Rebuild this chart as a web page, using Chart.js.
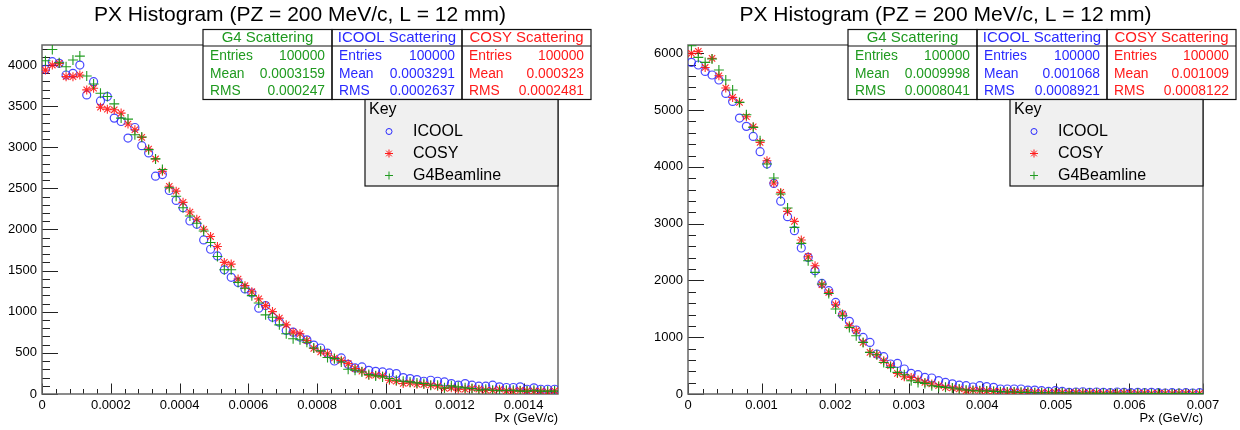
<!DOCTYPE html>
<html lang="en">
<head>
<meta charset="UTF-8">
<title>PX Histogram</title>
<script src="https://cdn.jsdelivr.net/npm/chart.js@4.4.1/dist/chart.umd.min.js"></script>
<style>
  body { margin: 0; background: #fff; }
  #wrap { display: flex; width: 1240px; height: 430px; }
  canvas { display: block; }
</style>
</head>
<body>
<div id="wrap">
  <canvas id="left" width="620" height="430"></canvas>
  <canvas id="right" width="620" height="430"></canvas>
</div>
<script>
// histogram binning (75 bins each)
const binsLeft = 75, xMaxLeft = 0.0015;
const binsRight = 75, xMaxRight = 0.007;

// tick labels
const xTicksLeft = [0, 0.0002, 0.0004, 0.0006, 0.0008, 0.001, 0.0012, 0.0014];
const yTicksLeft = [0, 500, 1000, 1500, 2000, 2500, 3000, 3500, 4000];
const xTicksRight = [0, 0.001, 0.002, 0.003, 0.004, 0.005, 0.006, 0.007];
const yTicksRight = [0, 1000, 2000, 3000, 4000, 5000, 6000];

// left panel counts
const icoolLeft = [3947, 4040, 4020, 3878, 3898, 3999, 3636, 3797, 3563, 3616, 3354, 3313, 3112, 3240, 3019, 2931, 2648, 2668, 2474, 2353, 2265,
  2103, 2063, 1873, 1760, 1679, 1510, 1418, 1357, 1277, 1228, 1043, 1075, 934, 873, 772, 752, 692, 659, 595, 559, 496,
  401, 438, 361, 317, 329, 288, 276, 268, 256, 248, 200, 188, 175, 155, 167, 155, 147, 127, 107, 127, 107, 95, 95, 107, 87, 79, 79, 87, 58, 75, 58, 58, 58];
const cosyLeft = [3938, 3999, 4020, 3858, 3858, 3878, 3697, 3717, 3487, 3463, 3455, 3415, 3282, 3213, 3120, 2979, 2858, 2708, 2526, 2466, 2330,
  2212, 2124, 2003, 1914, 1793, 1600, 1579, 1398, 1317, 1244, 1156, 1075, 1002, 922, 841, 752, 732, 651, 555, 510, 490,
  438, 409, 369, 309, 276, 228, 228, 220, 167, 155, 127, 135, 119, 115, 107, 95, 67, 75, 58, 58, 67, 58, 46, 46, 58, 39, 35, 46, 39, 35, 35, 27, 39];
const g4Left = [4051, 4189, 4027, 3979, 4060, 4108, 3866, 3769, 3657, 3616, 3527, 3354, 3342, 3152, 3124, 2971, 2858, 2729, 2507, 2405, 2265,
  2164, 2075, 1982, 1841, 1672, 1510, 1510, 1357, 1285, 1196, 1107, 962, 934, 841, 732, 672, 660, 630, 560, 524, 444,
  430, 389, 300, 288, 268, 236, 220, 208, 188, 167, 155, 147, 135, 127, 107, 107, 75, 99, 87, 75, 67, 46, 58, 46, 39, 46, 46, 35, 35, 46, 35, 35, 35];

// right panel counts
const icoolRight = [5840, 5794, 5681, 5618, 5530, 5294, 5153, 4860, 4713, 4536, 4267, 4050, 3709, 3395,
  3122, 2876, 2571, 2406, 2171, 1948, 1819, 1613, 1396, 1279, 1127, 997, 909, 704, 657, 528, 539, 440, 363, 340, 292, 282, 234, 204, 180, 155, 146, 123,
  146, 129, 117, 88, 88, 88, 88, 70, 70, 58, 46, 58, 46, 29, 35, 40, 29, 35, 29, 23, 35, 29, 23, 29, 23, 29, 23, 18, 23, 18, 23, 18, 23];
const cosyRight = [5998, 6033, 5751, 5910, 5605, 5389, 5223, 5135, 4883, 4707, 4431, 4108, 3716, 3550,
  3216, 3040, 2712, 2418, 2259, 1925, 1789, 1573, 1409, 1203, 1115, 909, 733, 692, 586, 498, 363, 305, 292, 247, 204, 176, 146, 117, 106, 88, 58, 70,
  64, 58, 52, 46, 41, 41, 35, 35, 29, 29, 23, 29, 23, 18, 23, 18, 18, 23, 12, 18, 12, 18, 12, 12, 18, 12, 12, 12, 6, 12, 12, 6, 12];
const g4Right = [6133, 5928, 5840, 5899, 5706, 5530, 5353, 5135, 4918, 4695, 4461, 4050, 3804, 3522,
  3275, 2934, 2652, 2347, 2141, 1937, 1771, 1497, 1379, 1173, 1027, 909, 733, 692, 556, 469, 381, 340, 234, 204, 187, 146, 129, 117, 106, 88, 70, 58,
  52, 52, 46, 41, 35, 35, 29, 29, 23, 23, 23, 18, 23, 18, 18, 12, 18, 12, 12, 12, 12, 12, 6, 12, 12, 6, 12, 6, 6, 12, 6, 6, 6];

// stats box contents
const statsLeft = {
  g4: ['100000', '0.0003159', '0.000247'],
  icool: ['100000', '0.0003291', '0.0002637'],
  cosy: ['100000', '0.000323', '0.0002481']
};
const statsRight = {
  g4: ['100000', '0.0009998', '0.0008041'],
  icool: ['100000', '0.001068', '0.0008921'],
  cosy: ['100000', '0.001009', '0.0008122']
};

const GREEN = '#1f9a1f', BLUE = '#2a2aff', RED = '#ff1a1a';
const FONT = '"Liberation Sans", Arial, Helvetica, sans-serif';

function centers(n, max) {
  const out = [];
  for (let i = 0; i < n; i++) out.push((i + 0.5) * max / n);
  return out;
}
function pts(xs, ys) {
  return ys.map((y, i) => ({ x: xs[i], y: y }));
}

// ROOT-like frame, ticks, title, stats boxes and key
const rootDecor = {
  id: 'rootDecor',
  beforeDatasetsDraw(chart) {
    const o = chart.options.plugins.rootDecor;
    const { ctx, chartArea: a } = chart;
    const xs = chart.scales.x, ys = chart.scales.y;
    ctx.save();
    ctx.strokeStyle = '#222';
    ctx.lineWidth = 1;
    ctx.beginPath();
    // x ticks, pointing up into the frame
    for (let v = 0; v <= xs.max + 1e-12; v += o.xMinor) {
      const px = Math.round(xs.getPixelForValue(v)) + 0.5;
      const major = Math.abs(v / o.xMajor - Math.round(v / o.xMajor)) < 1e-6;
      ctx.moveTo(px, a.bottom);
      ctx.lineTo(px, a.bottom - (major ? 10.5 : 5));
    }
    // y ticks, pointing right into the frame
    for (let v = 0; v <= ys.max + 1e-9; v += o.yMinor) {
      const py = Math.round(ys.getPixelForValue(v)) + 0.5;
      const major = Math.abs(v / o.yMajor - Math.round(v / o.yMajor)) < 1e-6;
      ctx.moveTo(a.left, py);
      ctx.lineTo(a.left + (major ? 16 : 8), py);
    }
    ctx.stroke();
    ctx.strokeStyle = '#666';
    ctx.lineWidth = 1.5;
    ctx.strokeRect(a.left, a.top, a.right - a.left, a.bottom - a.top);
    ctx.restore();
  },
  afterDraw(chart) {
    const o = chart.options.plugins.rootDecor;
    const { ctx, chartArea: a } = chart;
    ctx.save();
    // title
    ctx.fillStyle = '#000';
    ctx.font = '21px ' + FONT;
    ctx.textAlign = 'center';
    ctx.textBaseline = 'middle';
    ctx.fillText('PX Histogram (PZ = 200 MeV/c, L = 12 mm)', (a.left + a.right) / 2, 15);

    // stats boxes
    const right = a.right + 33, top = 29.5, headBottom = 46, bottom = 99.5;
    const widths = [129, 130, 129];
    const left = right - widths[0] - widths[1] - widths[2];
    const cols = [
      { name: 'G4 Scattering', color: GREEN, vals: o.stats.g4 },
      { name: 'ICOOL Scattering', color: BLUE, vals: o.stats.icool },
      { name: 'COSY Scattering', color: RED, vals: o.stats.cosy }
    ];
    ctx.fillStyle = '#fff';
    ctx.fillRect(left, top, right - left, bottom - top);
    ctx.strokeStyle = '#111';
    ctx.lineWidth = 1.2;
    let cx = left;
    cols.forEach((c, i) => {
      const w = widths[i];
      ctx.strokeRect(cx, top, w, bottom - top);
      ctx.beginPath();
      ctx.moveTo(cx, headBottom);
      ctx.lineTo(cx + w, headBottom);
      ctx.stroke();
      ctx.fillStyle = c.color;
      ctx.textBaseline = 'middle';
      ctx.font = '15px ' + FONT;
      ctx.textAlign = 'center';
      ctx.fillText(c.name, cx + w / 2, 37.5);
      ctx.font = '13.8px ' + FONT;
      ['Entries', 'Mean', 'RMS'].forEach((lab, r) => {
        const y = 56.5 + r * 17.3;
        ctx.textAlign = 'left';
        ctx.fillText(lab, cx + 7, y);
        ctx.textAlign = 'right';
        ctx.fillText(c.vals[r], cx + w - 7, y);
      });
      cx += w;
    });

    // key
    const kl = a.right - 193, kt = 99.5, kb = 186;
    ctx.fillStyle = '#f0f0f0';
    ctx.fillRect(kl, kt, a.right - kl, kb - kt);
    ctx.strokeStyle = '#111';
    ctx.lineWidth = 1.2;
    ctx.strokeRect(kl, kt, a.right - kl, kb - kt);
    ctx.fillStyle = '#000';
    ctx.font = '16px ' + FONT;
    ctx.textAlign = 'left';
    ctx.textBaseline = 'middle';
    ctx.fillText('Key', kl + 4, 110);
    const items = [
      { label: 'ICOOL', style: 'circle', color: BLUE },
      { label: 'COSY', style: 'star', color: RED },
      { label: 'G4Beamline', style: 'cross', color: GREEN }
    ];
    items.forEach((it, i) => {
      const y = 131.5 + i * 22;
      ctx.fillStyle = '#000';
      ctx.fillText(it.label, kl + 48, y);
      ctx.fillStyle = 'rgba(0,0,0,0)';
      ctx.strokeStyle = it.color;
      ctx.lineWidth = 1;
      Chart.helpers.drawPoint(ctx, { pointStyle: it.style, radius: it.style === 'circle' ? 3 : 4, rotation: 0, borderWidth: 1 }, kl + 24, y);
    });
    ctx.restore();
  }
};

function makeChart(id, cfg) {
  const xs = centers(cfg.bins, cfg.xMax);
  const tickFont = { family: FONT, size: 13 };
  return new Chart(document.getElementById(id), {
    type: 'scatter',
    data: {
      datasets: [
        { label: 'ICOOL', data: pts(xs, cfg.icool), pointStyle: 'circle', pointRadius: 4, borderColor: 'rgba(40,40,255,0.85)', backgroundColor: 'rgba(0,0,0,0)', borderWidth: 1.2, order: 3 },
        { label: 'COSY', data: pts(xs, cfg.cosy), pointStyle: 'star', pointRadius: 4.5, borderColor: 'rgba(255,20,20,0.9)', backgroundColor: 'rgba(0,0,0,0)', borderWidth: 1.1, order: 2 },
        { label: 'G4Beamline', data: pts(xs, cfg.g4), pointStyle: 'cross', pointRadius: 5, borderColor: 'rgba(20,150,20,0.95)', backgroundColor: 'rgba(0,0,0,0)', borderWidth: 1.1, order: 1 }
      ]
    },
    options: {
      responsive: false,
      animation: false,
      events: [],
      layout: { padding: { top: 45, right: cfg.padRight, bottom: 0, left: 0 } },
      scales: {
        x: {
          type: 'linear', min: 0, max: cfg.xMax,
          grid: { display: false, drawTicks: false },
          border: { display: false },
          afterBuildTicks: s => { s.ticks = cfg.xTicks.map(v => ({ value: v })); },
          afterFit: s => { s.height = 36; },
          ticks: {
            autoSkip: false, maxRotation: 0, padding: 4, color: '#000', font: tickFont,
            callback: v => String(+Number(v).toPrecision(6))
          },
          title: { display: true, text: 'Px (GeV/c)', align: 'end', color: '#000', font: tickFont, padding: { top: 0, bottom: 4 } }
        },
        y: {
          type: 'linear', min: 0, max: cfg.yMax,
          grid: { display: false, drawTicks: false },
          border: { display: false },
          afterBuildTicks: s => { s.ticks = cfg.yTicks.map(v => ({ value: v })); },
          afterFit: s => { s.width = cfg.yWidth; },
          ticks: { padding: 5, color: '#000', font: tickFont, callback: v => String(v) }
        }
      },
      plugins: {
        legend: { display: false },
        tooltip: { enabled: false },
        rootDecor: { stats: cfg.stats, xMajor: cfg.xMajor, xMinor: cfg.xMinor, yMajor: cfg.yMajor, yMinor: cfg.yMinor }
      }
    },
    plugins: [rootDecor]
  });
}

makeChart('left', {
  bins: binsLeft, xMax: xMaxLeft, yMax: 4243,
  xTicks: xTicksLeft, yTicks: yTicksLeft,
  icool: icoolLeft, cosy: cosyLeft, g4: g4Left, stats: statsLeft,
  xMajor: 0.0002, xMinor: 0.00004, yMajor: 500, yMinor: 100,
  yWidth: 42, padRight: 62
});
makeChart('right', {
  bins: binsRight, xMax: xMaxRight, yMax: 6146,
  xTicks: xTicksRight, yTicks: yTicksRight,
  icool: icoolRight, cosy: cosyRight, g4: g4Right, stats: statsRight,
  xMajor: 0.001, xMinor: 0.0002, yMajor: 1000, yMinor: 200,
  yWidth: 68, padRight: 37
});
</script>
</body>
</html>
